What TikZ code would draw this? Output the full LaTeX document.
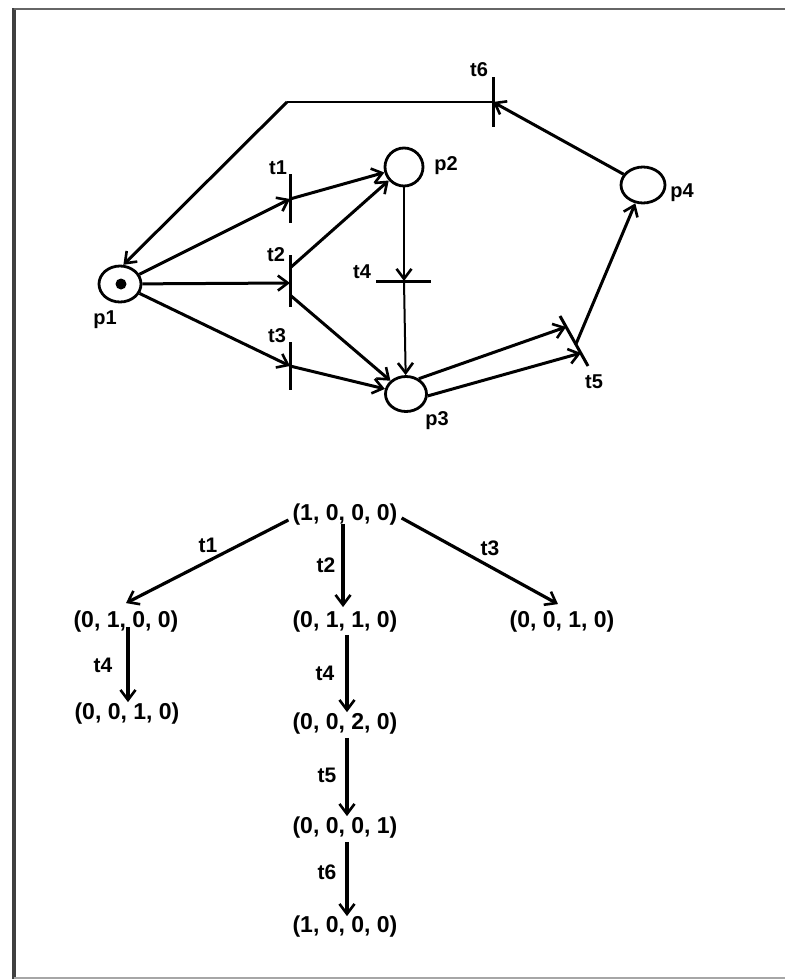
\documentclass[tikz,border=0pt]{standalone}
\usepackage{fontspec}
\setmainfont{Liberation Sans}
\usetikzlibrary{arrows.meta,shapes.geometric,calc}
\begin{document}
\begin{tikzpicture}[x=1pt,y=-1pt,
  >={Straight Barb[length=10pt,width=15pt,line width=2.6pt]},
  place/.style={draw, ellipse, line width=2.8pt, inner sep=0pt},
  token/.style={circle, fill, inner sep=0pt, minimum size=11pt},
  lab/.style={font=\bfseries\fontsize{20}{24}\selectfont, inner sep=0pt},
  tnode/.style={font=\bfseries\fontsize{23}{27}\selectfont, inner sep=0pt},
  tlab/.style={font=\bfseries\fontsize{21}{25}\selectfont, inner sep=0pt},
  bar/.style={line width=3pt},
  arc/.style={->, line width=3pt},
  thinarc/.style={->, line width=2pt},
  thinline/.style={line width=2pt},
  tarrow/.style={->, line width=3.2pt}
]
\useasboundingbox (0,0) rectangle (785,980);
% frame
\draw[line width=3.5pt, black!75] (14,8) -- (14,979);
\draw[line width=1.8pt, black!60] (14,9) -- (785,9);
\draw[line width=1.6pt, black!35] (14,978) -- (785,978);

% places
\node[place, minimum width=42pt, minimum height=36pt] (p1) at (120,284) {};
\node[token] (tok) at (121,284) {};
\node[place, minimum width=38pt, minimum height=38pt] (p2) at (404,167) {};
\node[place, minimum width=41pt, minimum height=35pt] (p3) at (406,394) {};
\node[place, minimum width=44pt, minimum height=36pt] (p4) at (643,185) {};
\node[lab] (lp1) at (105,320) {p1};
\node[lab] (lp2) at (446,166) {p2};
\node[lab] (lp3) at (437,421) {p3};
\node[lab] (lp4) at (682,193) {p4};

% transitions
\coordinate (t1) at (290,199);
\coordinate (t2) at (290,283);
\coordinate (t2u) at (290,268);
\coordinate (t2d) at (290,295);
\coordinate (t3) at (290,366);
\coordinate (t4) at (404,281);
\coordinate (t5) at (576,344);
\coordinate (t5a) at (566,327);
\coordinate (t5b) at (581,353);
\coordinate (t6) at (493,102);
\coordinate (c6) at (287,102);
\draw[bar] ($(t1)+(0,-25)$) -- ($(t1)+(0,24)$);
\draw[bar] ($(t2)+(0,-28)$) -- ($(t2)+(0,24)$);
\draw[bar] ($(t3)+(0,-24)$) -- ($(t3)+(0,24)$);
\draw[bar] ($(t4)+(-28,0)$) -- ($(t4)+(27,0)$);
\draw[bar] ($(t5)+(-16,-28)$) -- ($(t5)+(12,22)$);
\draw[bar] ($(t6)+(0,-25)$) -- ($(t6)+(0,25)$);
\node[lab] (lt1) at (278,168) {t1};
\node[lab] (lt2) at (276,255) {t2};
\node[lab] (lt3) at (277,336) {t3};
\node[lab] (lt4) at (362,272) {t4};
\node[lab] (lt5) at (594,382) {t5};
\node[lab] (lt6) at (479,70) {t6};

% arcs
\draw[arc] (p1) -- (t1);
\draw[arc] (t1) -- (p2);
\draw[arc] (p1) -- (t2);
\draw[arc] (t2u) -- (p2);
\draw[arc] (t2d) -- (p3);
\draw[arc] (p1) -- (t3);
\draw[arc] (t3) -- (p3);
\draw[thinarc] (p2) -- (t4);
\draw[thinarc] (t4) -- (p3);
\draw[arc] (p3.50) -- (t5a);
\draw[arc] (p3.-5) -- (t5b);
\draw[arc] (t5) -- (p4);
\draw[arc] (p4) -- (t6);
\draw[thinline] (t6) -- (c6);
\draw[arc] (c6) -- (p1.80);

% reachability tree
\node[tnode] (r) at (345,515) {(1, 0, 0, 0)};
\node[tnode] (a) at (126,622) {(0, 1, 0, 0)};
\node[tnode] (b) at (345,622) {(0, 1, 1, 0)};
\node[tnode] (c) at (562,622) {(0, 0, 1, 0)};
\node[tnode] (d) at (127,714) {(0, 0, 1, 0)};
\node[tnode] (e) at (345,724) {(0, 0, 2, 0)};
\node[tnode] (f) at (345,828) {(0, 0, 0, 1)};
\node[tnode] (g) at (345,927) {(1, 0, 0, 0)};

\draw[tarrow] ([xshift=-4pt,yshift=-5pt]r.west) -- ([yshift=8pt]a.north);
\draw[tarrow] ([xshift=-2pt,yshift=2pt]r.south) -- ([xshift=-2pt,yshift=4pt]b.north);
\draw[tarrow] ([xshift=4pt,yshift=-3pt]r.east) -- ([xshift=-4pt,yshift=7pt]c.north);
\draw[tarrow] ([xshift=2pt,yshift=6pt]a.south) -- ([xshift=1pt,yshift=1pt]d.north);
\draw[tarrow] ([xshift=2pt,yshift=-2pt]b.south) -- ([xshift=2pt,yshift=1pt]e.north);
\draw[tarrow] ([xshift=2pt,yshift=-3pt]e.south) -- ([xshift=2pt,yshift=1pt]f.north);
\draw[tarrow] ([xshift=2pt,yshift=-3pt]f.south) -- ([xshift=2pt,yshift=0pt]g.north);

\node[tlab] (l1) at (208,545) {t1};
\node[tlab] (l2) at (326,565) {t2};
\node[tlab] (l3) at (490,548) {t3};
\node[tlab] (l4a) at (103,665) {t4};
\node[tlab] (l4b) at (325,673) {t4};
\node[tlab] (l5) at (327,775) {t5};
\node[tlab] (l6) at (327,872) {t6};
\end{tikzpicture}
\end{document}
